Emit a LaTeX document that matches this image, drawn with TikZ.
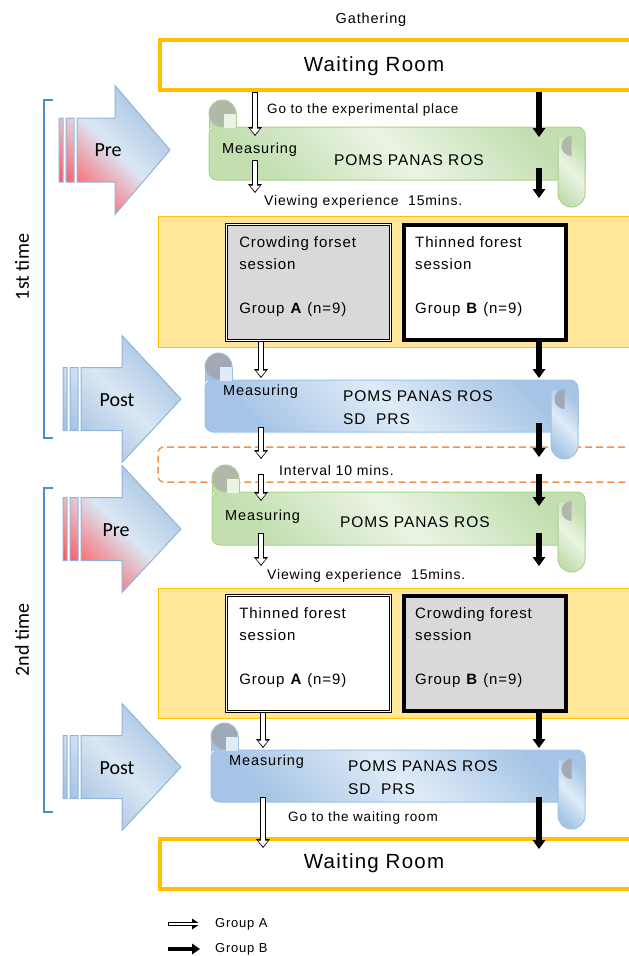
\documentclass[tikz,border=0pt]{standalone}
\usepackage{fontspec}
\setmainfont{Liberation Sans}[LetterSpace=6]
\newfontfamily\calfont{Carlito}
\usetikzlibrary{arrows.meta,positioning}
\definecolor{roomorange}{HTML}{FFC000}
\definecolor{viewyellow}{HTML}{FFE699}
\definecolor{sessgray}{HTML}{D9D9D9}
\definecolor{intvorange}{HTML}{F4914A}
\definecolor{brackblue}{HTML}{4A8FD0}
\definecolor{arrowedge}{HTML}{8FB4DC}
\definecolor{greenedge}{HTML}{A9D18E}
\definecolor{greenlight}{HTML}{EAF4E4}
\definecolor{greendark}{HTML}{C3DFB0}
\definecolor{greencurl}{HTML}{B1B8AA}
\definecolor{blueedge}{HTML}{9DC3E6}
\definecolor{bluelight}{HTML}{DFEBF7}
\definecolor{bluedark}{HTML}{A6C5E6}
\definecolor{bluecurl}{HTML}{A0A9B5}
\definecolor{prered}{HTML}{FF5A5F}
\definecolor{arrowblue}{HTML}{A4C2E2}
\definecolor{arrowlight}{HTML}{DAE7F3}

\begin{document}
\begin{tikzpicture}[x=1pt,y=-1pt,
    txt/.style={inner sep=2pt,font=\fontsize{14}{17}\selectfont},
    roomtxt/.style={inner sep=2pt,font=\fontsize{20.5}{24}\selectfont},
    sidetxt/.style={inner sep=2pt,font=\calfont\fontsize{20}{24}\selectfont},
    room/.style={draw=roomorange,line width=4pt,minimum width=480,minimum height=50},
    viewarea/.style={draw=roomorange,fill=viewyellow,line width=0.8pt,minimum width=484,minimum height=130},
    sessA/.style={draw,double=white,double distance=1.4pt,line width=0.9pt,minimum width=164,minimum height=116},
    sessB/.style={draw,line width=4pt,minimum width=162,minimum height=115},
    sesstxt/.style={inner sep=2pt,align=left,font=\fontsize{15}{22}\selectfont},
    intvbox/.style={draw=intvorange,dash pattern=on 7pt off 4pt,line width=1.5pt,rounded corners=6pt,minimum width=484,minimum height=35},
    greenscroll/.style={draw=greenedge,line width=1pt,top color=greendark,bottom color=greendark,middle color=greenlight,shading angle=-45},
    bluescroll/.style={draw=blueedge,line width=1pt,top color=bluedark,bottom color=bluedark,middle color=bluelight,shading angle=-45},
    prearrow/.style={draw=arrowedge,line width=1pt,top color=arrowblue,bottom color=prered,middle color=arrowlight,shading angle=-45},
    postarrow/.style={draw=arrowedge,line width=1pt,top color=arrowblue,bottom color=arrowblue,middle color=arrowlight,shading angle=-45},
    bracket/.style={draw=brackblue,line width=1.2pt},
    grpA/.style={line width=5.5pt,-{Triangle[width=14pt,length=9pt,line width=0pt]},
      postaction={draw=white,line width=3.5pt,shorten <=1pt,shorten >=1.5pt,-{Triangle[width=10pt,length=6pt,line width=0pt]}}},
    grpB/.style={line width=5.5pt,-{Triangle[width=13pt,length=9pt,line width=0pt]}},
    legA/.style={line width=4.5pt,-{Triangle[width=11pt,length=8pt,line width=0pt]},
      postaction={draw=white,line width=2.5pt,shorten <=1pt,shorten >=1.5pt,-{Triangle[width=7.5pt,length=5pt,line width=0pt]}}},
    legB/.style={line width=4.5pt,-{Triangle[width=11pt,length=8pt,line width=0pt]}}]

\useasboundingbox (0,0) rectangle (629,956);
\clip (0,0) rectangle (629,956);

% time brackets
\draw[bracket] (53,100) -- (44,100) -- (44,438) -- (53,438);
\node[sidetxt,rotate=90] (first) at (22,267) {1st time};
\draw[bracket] (53,488) -- (44,488) -- (44,812) -- (53,812);
\node[sidetxt,rotate=90] (second) at (22,640) {2nd time};

% striped arrows
\path[prearrow] (59,118) rectangle (63,182) (66,118) rectangle (74,182)
  (77,118) -- (115,118) -- (115,85.5) -- (170,150) -- (115,214.5) -- (115,182) -- (77,182) -- cycle;
\node[sidetxt] (pre1l) at (108,150) {Pre};
\path[postarrow] (63,367.5) rectangle (67,430.5) (70,367.5) rectangle (78,430.5)
  (81,367.5) -- (122,367.5) -- (122,335.5) -- (181,399) -- (122,462.5) -- (122,430.5) -- (81,430.5) -- cycle;
\node[sidetxt] (post1l) at (117,400) {Post};
\path[prearrow] (63,497.5) rectangle (67,560.5) (70,497.5) rectangle (78,560.5)
  (81,497.5) -- (122,497.5) -- (122,465.5) -- (181,529) -- (122,592.5) -- (122,560.5) -- (81,560.5) -- cycle;
\node[sidetxt] (pre2l) at (116,530) {Pre};
\path[postarrow] (63,735.5) rectangle (67,798.5) (70,735.5) rectangle (78,798.5)
  (81,735.5) -- (122,735.5) -- (122,703.5) -- (181,767) -- (122,830.5) -- (122,798.5) -- (81,798.5) -- cycle;
\node[sidetxt] (post2l) at (117,768) {Post};

% rooms
\node[txt,font=\fontsize{14.5}{17}\selectfont] (gather) at (371,20) {Gathering};
\node[room] (wait1) at (400,65) {};
\node[roomtxt] (wait1t) at (374,66) {Waiting Room};
\node[room] (wait2) at (400,864) {};
\node[roomtxt] (wait2t) at (374,863) {Waiting Room};

% viewing sessions
\node[viewarea,minimum height=131] (view1) at (400,281.5) {};
\node[sessA,fill=sessgray] (sessA1) at (308.5,282.5) {};
\node[sessB,fill=white] (sessB1) at (485,282.5) {};
\node[sesstxt,below right=10pt and 11pt of sessA1.north west] (sessA1t) {Crowding forset\\session\\[22pt]Group \textbf{A} (n=9)};
\node[sesstxt,below right=11pt and 11pt of sessB1.north west] (sessB1t) {Thinned forest\\session\\[22pt]Group \textbf{B} (n=9)};

\node[viewarea] (view2) at (400,653) {};
\node[sessA,fill=white] (sessA2) at (308.5,653.5) {};
\node[sessB,fill=sessgray] (sessB2) at (485,653.5) {};
\node[sesstxt,below right=10pt and 11pt of sessA2.north west] (sessA2t) {Thinned forest\\session\\[22pt]Group \textbf{A} (n=9)};
\node[sesstxt,below right=11pt and 11pt of sessB2.north west] (sessB2t) {Crowding forest\\session\\[22pt]Group \textbf{B} (n=9)};

% interval
\node[intvbox] (intv) at (400,464.5) {};

% pre 1
\node[greenscroll,rounded corners=8pt,minimum width=376,minimum height=53] (pre1) at (397,153.5) {};
\path[greenscroll,rounded corners=13.5pt] (558,137) -- (558,207) -- (585,207) -- (585,137);
\fill[greencurl] (571.5,136) arc[start angle=270,end angle=90,radius=10] -- cycle;
\fill[greendark] (209.5,113.5) rectangle (236,128);
\draw[greenedge,line width=1pt] (209,113.5) -- (209,130);
\draw[greenedge,line width=1pt,fill=greencurl] (222.5,113.5) circle[radius=13.5];
\fill[greenlight] (224,113.5) rectangle (236,127.5);
\draw[greenedge,line width=1pt] (236,113.5) -- (236,127.5);

% post 1
\node[bluescroll,rounded corners=8pt,minimum width=373,minimum height=52] (post1) at (391.5,406) {};
\path[bluescroll,rounded corners=13.5pt] (551,390) -- (551,459) -- (578,459) -- (578,390);
\fill[bluecurl] (564.5,389) arc[start angle=270,end angle=90,radius=10] -- cycle;
\fill[bluedark] (205.5,366.5) rectangle (232,381);
\draw[blueedge,line width=1pt] (205,366.5) -- (205,383);
\draw[blueedge,line width=1pt,fill=bluecurl] (218.5,366.5) circle[radius=13.5];
\fill[bluelight] (220,366.5) rectangle (232,380.5);
\draw[blueedge,line width=1pt] (232,366.5) -- (232,380.5);

% pre 2
\node[greenscroll,rounded corners=8pt,minimum width=373,minimum height=53] (pre2) at (398.5,518.5) {};
\path[greenscroll,rounded corners=13.5pt] (558,502) -- (558,572) -- (585,572) -- (585,502);
\fill[greencurl] (571.5,501) arc[start angle=270,end angle=90,radius=10] -- cycle;
\fill[greendark] (212.5,478.5) rectangle (239,493);
\draw[greenedge,line width=1pt] (212,478.5) -- (212,495);
\draw[greenedge,line width=1pt,fill=greencurl] (225.5,478.5) circle[radius=13.5];
\fill[greenlight] (227,478.5) rectangle (239,492.5);
\draw[greenedge,line width=1pt] (239,478.5) -- (239,492.5);

% post 2
\node[bluescroll,rounded corners=8pt,minimum width=374,minimum height=52] (post2) at (398,776) {};
\path[bluescroll,rounded corners=13.5pt] (558,760) -- (558,829) -- (585,829) -- (585,760);
\fill[bluecurl] (571.5,759) arc[start angle=270,end angle=90,radius=10] -- cycle;
\fill[bluedark] (211.5,736.5) rectangle (238,751);
\draw[blueedge,line width=1pt] (211,736.5) -- (211,753);
\draw[blueedge,line width=1pt,fill=bluecurl] (224.5,736.5) circle[radius=13.5];
\fill[bluelight] (226,736.5) rectangle (238,750.5);
\draw[blueedge,line width=1pt] (238,736.5) -- (238,750.5);

% texts
\node[txt,anchor=west,font=\fontsize{13.5}{16}\selectfont] (go1) at (265,110) {Go to the experimental place};
\node[txt,anchor=west,font=\fontsize{14.5}{17}\selectfont] (pre1m) at (220,150) {Measuring};
\node[txt,anchor=west,font=\fontsize{15.5}{18}\selectfont] (pre1p) at (332,160) {POMS PANAS ROS};
\node[txt,anchor=west] (view1t) at (262,202) {Viewing experience\ \ 15mins.};
\node[txt,anchor=west,font=\fontsize{14.5}{17}\selectfont] (post1m) at (221,392) {Measuring};
\node[txt,anchor=west,align=left,font=\fontsize{15.5}{23}\selectfont] (post1p) at (341,407.5) {POMS PANAS ROS\\SD\ \ PRS};
\node[txt,anchor=west] (intvt) at (277,470) {Interval 10 mins.};
\node[txt,anchor=west,font=\fontsize{14.5}{17}\selectfont] (pre2m) at (223,517) {Measuring};
\node[txt,anchor=west,font=\fontsize{15.5}{18}\selectfont] (pre2p) at (338,522) {POMS PANAS ROS};
\node[txt,anchor=west] (view2t) at (265,576) {Viewing experience\ \ 15mins.};
\node[txt,anchor=west,font=\fontsize{14.5}{17}\selectfont] (post2m) at (227,762) {Measuring};
\node[txt,anchor=west,align=left,font=\fontsize{15.5}{23}\selectfont] (post2p) at (346,777.5) {POMS PANAS ROS\\SD\ \ PRS};
\node[txt,anchor=west,font=\fontsize{13.5}{16}\selectfont] (go2) at (286,818) {Go to the waiting room};

% group flows
\coordinate (a1) at (255,136);   \coordinate (b1) at (539,137);
\coordinate (a2s) at (255,160);  \coordinate (a2) at (255,193);
\coordinate (b2s) at (539,168);  \coordinate (b2) at (539,198);
\coordinate (a3) at (261,378);   \coordinate (b3) at (539,378);
\coordinate (a4s) at (261,427);  \coordinate (a4) at (261,459);
\coordinate (b4s) at (539,423);  \coordinate (b4) at (539,457);
\coordinate (a5s) at (261,474);  \coordinate (a5) at (261,501);
\coordinate (b5s) at (539,474);  \coordinate (b5) at (539,506);
\coordinate (a6s) at (261,533);  \coordinate (a6) at (261,566);
\coordinate (b6s) at (539,533);  \coordinate (b6) at (539,566);
\coordinate (a7) at (263,748);   \coordinate (b7) at (539,748);
\coordinate (a8s) at (263,797);  \coordinate (a8) at (263,848);
\coordinate (b8s) at (539,797);  \coordinate (b8) at (539,849);

\path (wait1.south -| a1) edge[grpA] (a1)
      (wait1.south -| b1) edge[grpB] (b1)
      (a2s) edge[grpA] (a2)
      (b2s) edge[grpB] (b2)
      (sessA1.south -| a3) edge[grpA] (a3)
      (sessB1.south -| b3) edge[grpB] (b3)
      (a4s) edge[grpA] (a4)
      (b4s) edge[grpB] (b4)
      (a5s) edge[grpA] (a5)
      (b5s) edge[grpB] (b5)
      (a6s) edge[grpA] (a6)
      (b6s) edge[grpB] (b6)
      (sessA2.south -| a7) edge[grpA] (a7)
      (sessB2.south -| b7) edge[grpB] (b7)
      (a8s) edge[grpA] (a8)
      (b8s) edge[grpB] (b8);

% legend
\node[txt,anchor=west,font=\fontsize{13}{16}\selectfont] (legA) at (213,924) {Group A};
\node[txt,anchor=west,font=\fontsize{13}{16}\selectfont] (legB) at (213,949) {Group B};
\coordinate (legAs) at (168,924);
\coordinate (legBs) at (168,949);
\path (legAs) edge[legA,shorten >=13pt] (legA.west)
      (legBs) edge[legB,shorten >=13pt] (legB.west);

\end{tikzpicture}
\end{document}
